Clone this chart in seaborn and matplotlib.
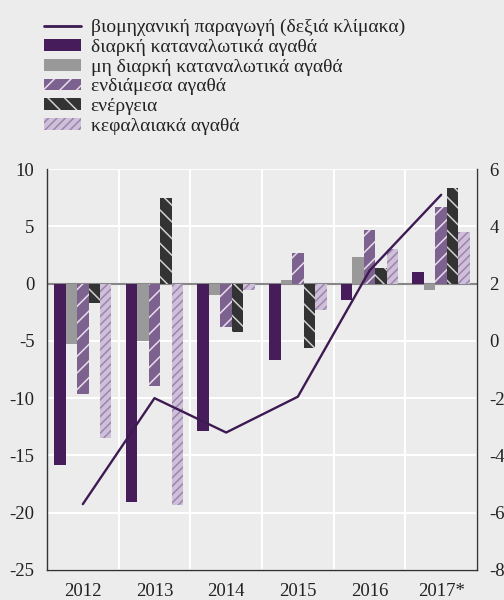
import numpy as np
import pandas as pd
import matplotlib
matplotlib.use("Agg")
import matplotlib.pyplot as plt
import seaborn as sns
from matplotlib.patches import Patch
from matplotlib.lines import Line2D

years = ["2012", "2013", "2014", "2015", "2016", "2017*"]
durable = [-15.8, -19.1, -12.9, -6.7, -1.4, 1.0]
nondurable = [-5.3, -5.0, -1.0, 0.3, 2.3, -0.6]
intermediate = [-9.6, -8.9, -3.8, 2.7, 4.7, 6.7]
energy = [-1.7, 7.5, -4.2, -5.6, 1.4, 8.3]
capital = [-13.5, -19.3, -0.6, -2.3, 3.0, 4.5]
industrial = [-5.7, -2.0, -3.2, -1.95, 2.45, 5.1]

line_label = "βιομηχανική παραγωγή (δεξιά κλίμακα)"
series_labels = ["διαρκή καταναλωτικά αγαθά", "μη διαρκή καταναλωτικά αγαθά",
                 "ενδιάμεσα αγαθά", "ενέργεια", "κεφαλαιακά αγαθά"]
series_values = [durable, nondurable, intermediate, energy, capital]

face_colors = ["#461C5A", "#999999", "#7D6290", "#333333", "#CEC0D8"]
hatch_colors = [None, None, "#E6DDEB", "#D0D0D0", "#9C84AE"]
hatches = [None, None, "//", "\\\\", "////"]
line_color = "#3E1A53"
bg = "#ECECEC"

rows = []
for lab, vals in zip(series_labels, series_values):
    for y, v in zip(years, vals):
        rows.append({"year": y, "series": lab, "value": v})
df = pd.DataFrame(rows)

sns.set_style("white")
plt.rcParams["font.family"] = ["Liberation Serif", "DejaVu Serif"]
plt.rcParams["hatch.linewidth"] = 1.1

fig = plt.figure(figsize=(5.04, 6.0), dpi=100, facecolor=bg)
ax = fig.add_axes([47 / 504, 1 - 570 / 600, 430 / 504, 401 / 600])
ax.set_facecolor(bg)

sns.barplot(data=df, x="year", y="value", hue="series", order=years,
            hue_order=series_labels, palette=face_colors, saturation=1,
            width=0.8, errorbar=None, legend=False, ax=ax, zorder=2)

for i, cont in enumerate(ax.containers):
    for bar in cont:
        if hatches[i]:
            bar.set_hatch(hatches[i])
            bar.set_edgecolor(hatch_colors[i])
        bar.set_linewidth(0)

ax.set_xlim(-0.5, 5.5)
ax.set_ylim(-25, 10)
ax.set_yticks(np.arange(-25, 11, 5))
ax.set_xticks(range(len(years)))
ax.set_xticklabels(years)
ax.set_xticks(np.arange(-0.5, 5.6, 1), minor=True)
ax.set_xlabel("")
ax.set_ylabel("")
ax.grid(False)
ax.grid(axis="y", which="major", color="white", lw=1.5, zorder=0)
ax.grid(axis="x", which="minor", color="white", lw=1.5, zorder=0)
ax.set_axisbelow(True)
ax.axhline(0, color="#888888", lw=1.5, zorder=1.5)

ax.tick_params(axis="x", which="major", length=0, pad=9, labelsize=13.5, colors="#222222")
ax.tick_params(axis="x", which="minor", length=7, width=1, direction="out", color="#333333")
ax.tick_params(axis="y", length=0, pad=9, labelsize=13.5, colors="#222222")
ax.yaxis.set_major_formatter(matplotlib.ticker.FuncFormatter(lambda v, p: f"{int(v)}"))

for s in ["top", "right"]:
    ax.spines[s].set_visible(False)
for s in ["left", "bottom"]:
    ax.spines[s].set_color("#333333")
    ax.spines[s].set_linewidth(1)

ax2 = ax.twinx()
sns.lineplot(x=list(range(len(years))), y=industrial, ax=ax2, color=line_color, lw=1.7, zorder=5)
ax2.set_ylim(-8, 6)
ax2.set_yticks(np.arange(-8, 7, 2))
ax2.yaxis.set_major_formatter(matplotlib.ticker.FuncFormatter(lambda v, p: f"{int(v)}"))
ax2.tick_params(axis="y", length=0, pad=9, labelsize=13.5, colors="#222222")
ax2.set_ylabel("")
ax2.grid(False)
for s in ["top", "left", "bottom"]:
    ax2.spines[s].set_visible(False)
ax2.spines["right"].set_color("#333333")
ax2.spines["right"].set_linewidth(1)
ax2.set_xlim(-0.5, 5.5)

handles = [Line2D([0], [0], color=line_color, lw=2)]
for i in range(5):
    handles.append(Patch(facecolor=face_colors[i], edgecolor=hatch_colors[i] or face_colors[i],
                         hatch=hatches[i], linewidth=0))
fig.legend(handles, [line_label] + series_labels, loc="upper left",
           bbox_to_anchor=(44 / 504, 1 - 19 / 600), frameon=False, fontsize=14,
           handlelength=1.9, handleheight=0.55, handletextpad=0.5,
           labelspacing=0.14, borderpad=0, borderaxespad=0,
           labelcolor="#222222")

fig.savefig("out.png", dpi=100, facecolor=bg)
